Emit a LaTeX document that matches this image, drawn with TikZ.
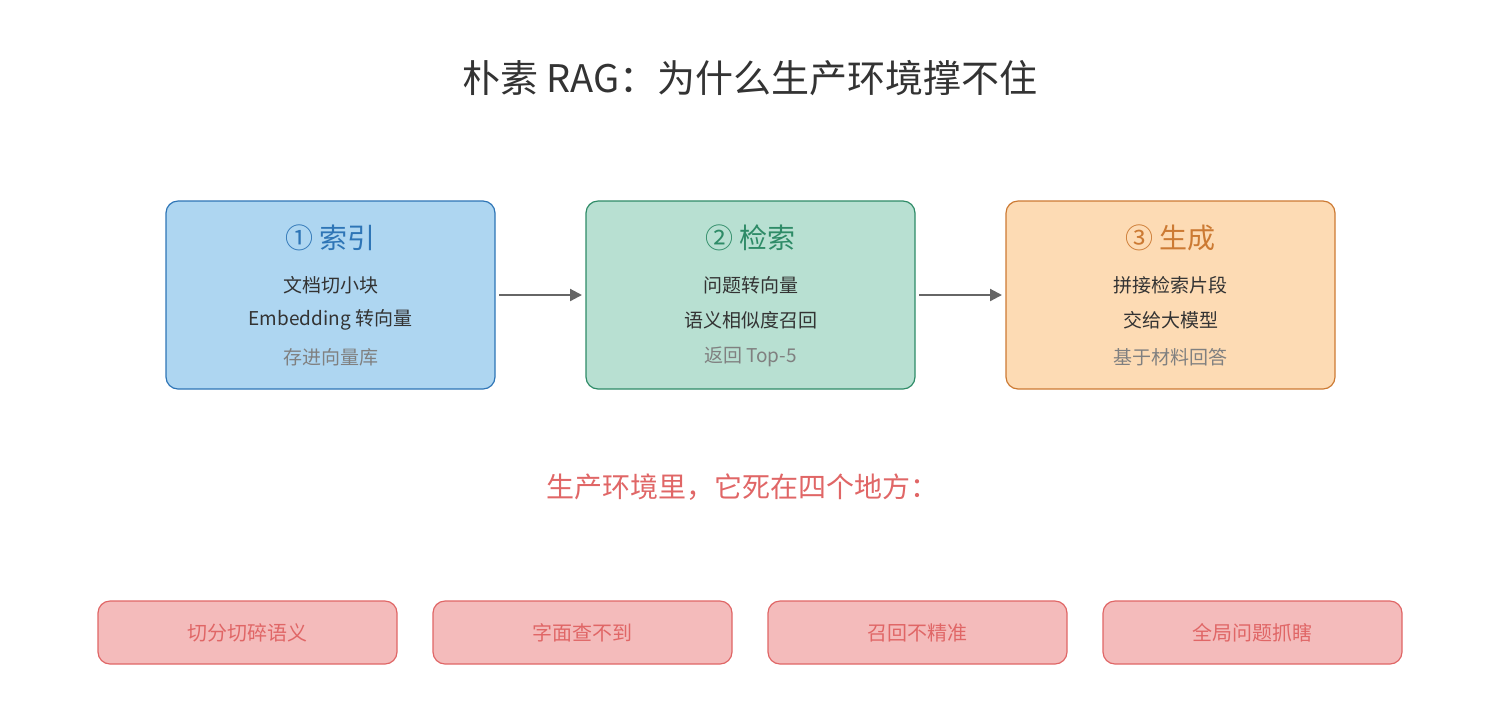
\documentclass[tikz,border=0pt]{standalone}
\usepackage{fontspec}
\setmainfont{Noto Sans CJK SC}
\usetikzlibrary{arrows.meta}
\definecolor{bF}{HTML}{AED6F1}\definecolor{bS}{HTML}{2E75B6}
\definecolor{gF}{HTML}{B8E0D2}\definecolor{gS}{HTML}{2E8B67}
\definecolor{oF}{HTML}{FDDBB4}\definecolor{oS}{HTML}{CC7A33}
\definecolor{rF}{HTML}{F4BBBB}\definecolor{rS}{HTML}{E06666}
\definecolor{dk}{HTML}{333333}\definecolor{gy}{HTML}{808080}
\begin{document}
\begin{tikzpicture}[x=0.5pt,y=-0.5pt,
 box/.style={draw,rounded corners=6pt,line width=0.6pt,minimum width=164.5pt,minimum height=94pt},
 rbox/.style={draw=rS,fill=rF,rounded corners=6pt,line width=0.6pt,minimum width=149.5pt,minimum height=31.5pt,text=rS,font=\fontsize{10}{12}\selectfont},
 bt/.style={font=\fontsize{9.5}{11}\selectfont,text=dk},
 gt/.style={font=\fontsize{9.5}{11}\selectfont,text=gy},
 ht/.style={font=\fontsize{14}{16}\selectfont},
 arr/.style={-{Triangle[length=6pt,width=6pt]},line width=1.1pt,draw=gray!80!black}]
\useasboundingbox (0,0) rectangle (1500,720);
\node[font=\fontsize{19}{22}\selectfont,text=dk] (title) at (750,78) {朴素 RAG：为什么生产环境撑不住};
\node[box,draw=bS,fill=bF] (b1) at (330.5,295) {};
\node[box,draw=gS,fill=gF] (b2) at (750.5,295) {};
\node[box,draw=oS,fill=oF] (b3) at (1170.5,295) {};
\node[ht,text=bS] (t1) at (330.5,238) {① 索引};
\node[bt] (l11) at (330.5,285) {文档切小块};
\node[bt] (l12) at (330.5,320) {Embedding 转向量};
\node[gt] (l13) at (330.5,357) {存进向量库};
\node[ht,text=gS] (t2) at (750.5,238) {② 检索};
\node[bt] (l21) at (750.5,285) {问题转向量};
\node[bt] (l22) at (750.5,320) {语义相似度召回};
\node[gt] (l23) at (750.5,357) {返回 Top-5};
\node[ht,text=oS] (t3) at (1170.5,238) {③ 生成};
\node[bt] (l31) at (1170.5,285) {拼接检索片段};
\node[bt] (l32) at (1170.5,320) {交给大模型};
\node[gt] (l33) at (1170.5,357) {基于材料回答};
\coordinate (a1s) at (499,295);\coordinate (a1e) at (582,295);
\coordinate (a2s) at (919,295);\coordinate (a2e) at (1002,295);
\draw[arr] (a1s) -- (a1e);
\draw[arr] (a2s) -- (a2e);
\node[font=\fontsize{14}{16}\selectfont,text=rS] (sub) at (742,487) {生产环境里，它死在四个地方：};
\node[rbox] (r1) at (247.5,632.5) {切分切碎语义};
\node[rbox] (r2) at (582.5,632.5) {字面查不到};
\node[rbox] (r3) at (917.5,632.5) {召回不精准};
\node[rbox] (r4) at (1252.5,632.5) {全局问题抓瞎};
\end{tikzpicture}
\end{document}
